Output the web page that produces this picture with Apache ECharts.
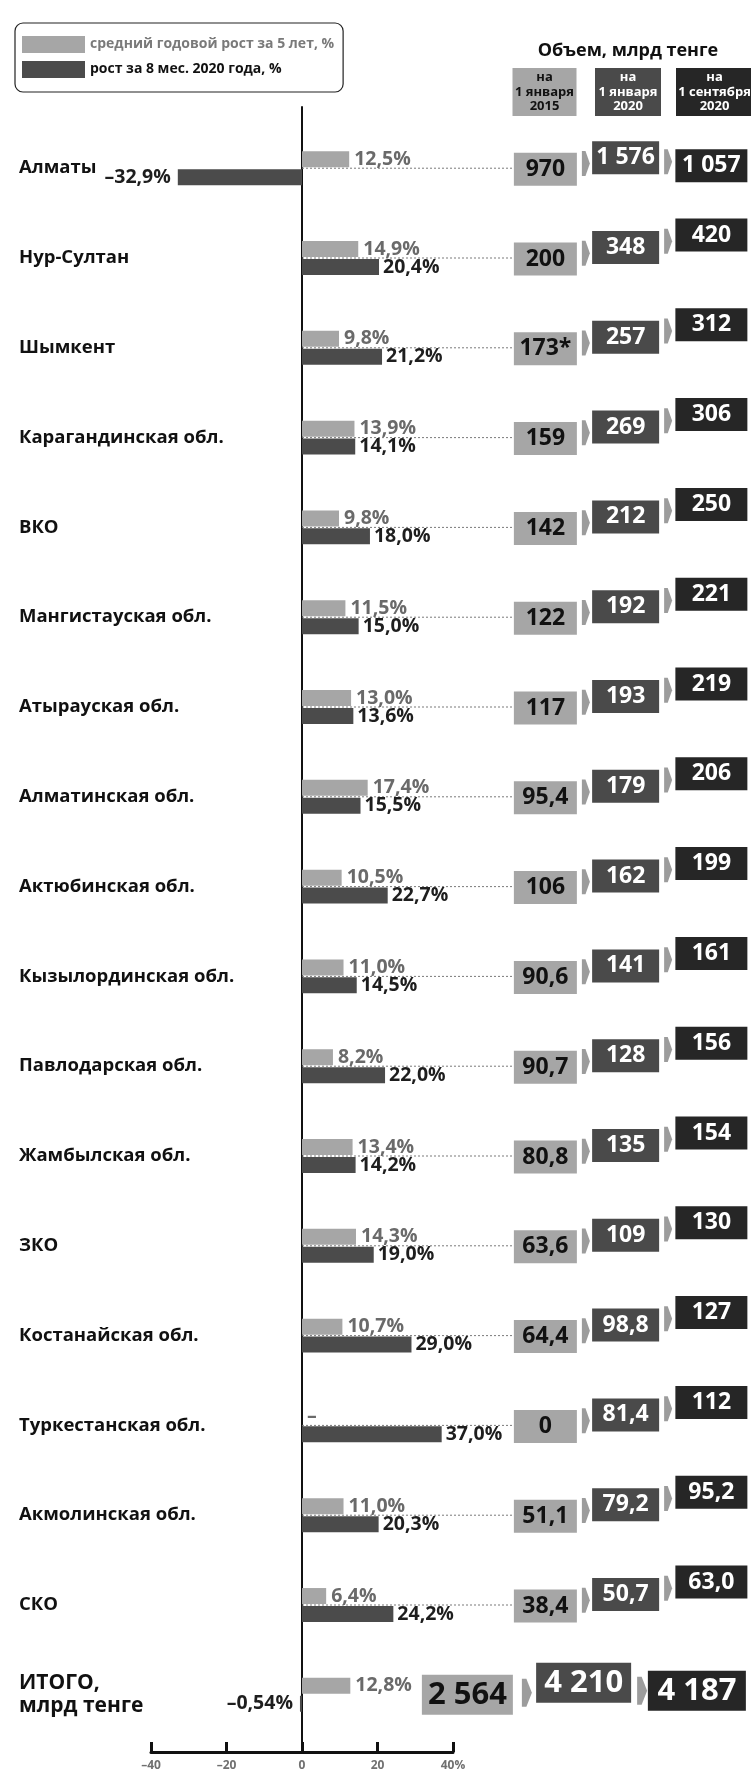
<!DOCTYPE html>
<html>
<head>
<meta charset="utf-8">
<script src="https://cdn.jsdelivr.net/npm/echarts@6/dist/echarts.min.js"></script>
<style>
html,body{margin:0;padding:0;background:#ffffff;}
#chart{width:751px;height:1781px;}
</style>
</head>
<body>
<div id="chart"></div>
<script>
// ---------------- DATA ----------------
const regions = ['Алматы','Нур-Султан','Шымкент','Карагандинская обл.','ВКО','Мангистауская обл.','Атырауская обл.','Алматинская обл.','Актюбинская обл.','Кызылординская обл.','Павлодарская обл.','Жамбылская обл.','ЗКО','Костанайская обл.','Туркестанская обл.','Акмолинская обл.','СКО','ИТОГО,\nмлрд тенге'];
const growth5y = [12.5, 14.9, 9.8, 13.9, 9.8, 11.5, 13.0, 17.4, 10.5, 11.0, 8.2, 13.4, 14.3, 10.7, null, 11.0, 6.4, 12.8];
const growth8m = [-32.9, 20.4, 21.2, 14.1, 18.0, 15.0, 13.6, 15.5, 22.7, 14.5, 22.0, 14.2, 19.0, 29.0, 37.0, 20.3, 24.2, -0.54];
const vol2015 = [970, 200, 173, 159, 142, 122, 117, 95.4, 106, 90.6, 90.7, 80.8, 63.6, 64.4, 0, 51.1, 38.4, 2564];
const vol2020 = [1576, 348, 257, 269, 212, 192, 193, 179, 162, 141, 128, 135, 109, 98.8, 81.4, 79.2, 50.7, 4210];
const volSep2020 = [1057, 420, 312, 306, 250, 221, 219, 206, 199, 161, 156, 154, 130, 127, 112, 95.2, 63.0, 4187];
const note2015 = ['', '', '*', '', '', '', '', '', '', '', '', '', '', '', '', '', '', ''];
const volColumns = ['на\n1 января\n2015', 'на\n1 января\n2020', 'на\n1 сентября\n2020'];
const volTitle = 'Объем, млрд тенге';
const seriesNames = ['средний годовой рост за 5 лет, %', 'рост за 8 мес. 2020 года, %'];
const axisMin = -40, axisMax = 40, axisStep = 20;

// ---------------- LAYOUT / STYLE ----------------
const FONT = '"Open Sans", "DejaVu Sans", sans-serif';
const C_GREY = '#a6a6a6', C_DARK = '#4a4a4a', C_BLACK = '#262626', C_CHEV = '#9c9c9c';
const ROW_BAND = 89.8;
const ROW_TOP = 258 - 1.5 * ROW_BAND, ROW_H = 18 * ROW_BAND;
const AX_LEFT = 151, AX_W = 302;
const BOX_LEFT = 504.25, BOX_BAND = 84.5;
const BOX_W = [63, 67, 72], BOX_H = 33;
const TOT_W = [91, 95, 98], TOT_H = 40, TOT_SHIFT = [-78, -44, -13];
const BOX_FILL = [C_GREY, C_DARK, C_BLACK];
const BOX_TEXT = ['#111111', '#ffffff', '#ffffff'];
const DOT_END = BOX_LEFT + BOX_BAND / 2 - BOX_W[0] / 2;

function fmtPct(v) {
  const a = Math.abs(v);
  const oneDec = Math.abs(a * 100 - Math.round(a * 10) * 10) < 1e-6;
  const s = (oneDec ? a.toFixed(1) : a.toFixed(2)).replace('.', ',');
  return (v < 0 ? '–' : '') + s + '%';
}
function fmtVol(v) {
  if (v === 0) return '0';
  if (v < 100) return v.toFixed(1).replace('.', ',');
  return String(Math.round(v)).replace(/\B(?=(\d{3})+(?!\d))/g, ' ');
}

const lastIdx = regions.length - 1;

const chart = echarts.init(document.getElementById('chart'), null, {renderer: 'canvas'});

const headerGraphics = [];
const HDR_W = [64, 66, 77];
volColumns.forEach((t, c) => {
  const cx = BOX_LEFT + (c + 0.5) * BOX_BAND + (c === 2 ? -1 : (c === 0 ? -2 : -3));
  headerGraphics.push({
    type: 'rect', left: cx - HDR_W[c] / 2, top: 68,
    shape: {width: HDR_W[c], height: 48},
    style: {fill: BOX_FILL[c]}
  });
  headerGraphics.push({
    type: 'text', x: cx, y: 92,
    style: {text: t, fill: BOX_TEXT[c], font: 'bold 13px ' + FONT, textAlign: 'center', textVerticalAlign: 'middle', lineHeight: 14.5}
  });
});
headerGraphics.push({
  type: 'text', x: 628, y: 51,
  style: {text: volTitle, fill: '#111', font: 'bold 18px ' + FONT, textAlign: 'center', textVerticalAlign: 'middle'}
});

const option = {
  animation: false,
  backgroundColor: '#ffffff',
  textStyle: {fontFamily: FONT},
  legend: {
    left: 15, top: 23, orient: 'vertical', itemWidth: 63, itemHeight: 17, itemGap: 8,
    padding: [13, 9, 14, 7], borderColor: '#222', borderWidth: 1.2, borderRadius: 8,
    icon: 'rect', selectedMode: false,
    data: [
      {name: seriesNames[0], textStyle: {color: '#7a7a7a'}},
      {name: seriesNames[1], textStyle: {color: '#111111'}}
    ],
    textStyle: {fontFamily: FONT, fontSize: 14, fontWeight: 'bold'}
  },
  graphic: headerGraphics,
  grid: [
    {left: AX_LEFT, width: AX_W, top: ROW_TOP, height: ROW_H},
    {left: AX_LEFT, width: AX_W, top: 107, bottom: 29},
    {left: BOX_LEFT, width: BOX_BAND * 3, top: ROW_TOP, height: ROW_H}
  ],
  xAxis: [
    {type: 'value', gridIndex: 0, min: axisMin, max: axisMax, show: false},
    {type: 'value', gridIndex: 1, min: axisMin, max: axisMax, interval: axisStep,
      axisLine: {show: true, onZero: false, lineStyle: {color: '#111', width: 3}},
      axisTick: {show: true, inside: true, length: 10, lineStyle: {color: '#111', width: 3}},
      splitLine: {show: false},
      axisLabel: {color: '#707070', fontSize: 12, fontWeight: 'bold', fontFamily: FONT, margin: 8,
        formatter: v => (v < 0 ? '–' + Math.abs(v) : (v === axisMax ? v + '%' : String(v)))}
    },
    {type: 'category', gridIndex: 2, data: volColumns, show: false}
  ],
  yAxis: [
    {type: 'category', gridIndex: 0, data: regions, inverse: true,
      axisLine: {show: false, onZero: false}, axisTick: {show: false},
      axisLabel: {align: 'left', margin: AX_LEFT - 19, color: '#111', fontSize: 18.5, fontWeight: 'bold', fontFamily: FONT,
        formatter: (v, i) => i === lastIdx ? v.split('\n').map(s => '{t|' + s + '}').join('\n') : v,
        rich: {t: {fontSize: 21, fontWeight: 'bold', lineHeight: 23, color: '#111', fontFamily: FONT}}
      }
    },
    {type: 'value', gridIndex: 1, min: 0, max: 1,
      axisLine: {show: true, onZero: true, lineStyle: {color: '#111', width: 2}},
      axisTick: {show: false}, axisLabel: {show: false}, splitLine: {show: false}
    },
    {type: 'category', gridIndex: 2, data: regions, inverse: true, show: false}
  ],
  series: [
    {
      type: 'custom', name: 'dots', xAxisIndex: 0, yAxisIndex: 0, silent: true, z: 1,
      data: regions.slice(0, lastIdx).map((_, i) => [0, i]),
      encode: {x: 0, y: 1},
      renderItem: (params, api) => {
        const p = api.coord([0, api.value(1)]);
        return {type: 'line', shape: {x1: p[0], y1: p[1], x2: DOT_END, y2: p[1]},
          style: {stroke: '#7a7a7a', lineWidth: 1, lineDash: [2, 2]}};
      }
    },
    {
      type: 'bar', name: seriesNames[0], xAxisIndex: 0, yAxisIndex: 0, z: 3,
      barWidth: 16, barGap: '12%', itemStyle: {color: C_GREY},
      data: growth5y.map(v => v === null ? {value: 0, label: {formatter: '–'}} : v),
      label: {show: true, position: 'right', distance: 5, color: '#6a6a6a', fontSize: 19.5, fontWeight: 'bold', fontFamily: FONT,
        formatter: p => fmtPct(p.value)}
    },
    {
      type: 'bar', name: seriesNames[1], xAxisIndex: 0, yAxisIndex: 0, z: 3,
      barWidth: 16, itemStyle: {color: '#4b4b4b'},
      data: growth8m.map(v => ({value: v, label: {position: v < 0 ? 'left' : 'right', distance: v < 0 ? 7 : 4}})),
      label: {show: true, color: '#1e1e1e', fontSize: 19.5, fontWeight: 'bold', fontFamily: FONT,
        formatter: p => fmtPct(p.value)}
    },
    {
      type: 'custom', name: 'volumes', xAxisIndex: 2, yAxisIndex: 2, silent: true, z: 5,
      data: regions.map((_, i) => [0, i, vol2015[i], vol2020[i], volSep2020[i]]),
      encode: {x: 0, y: 1},
      renderItem: (params, api) => {
        const row = api.value(1);
        const isTotal = row === lastIdx;
        const vals = [api.value(2), api.value(3), api.value(4)];
        const yc = api.coord([0, row])[1];
        const W = isTotal ? TOT_W : BOX_W;
        const H = isTotal ? TOT_H : BOX_H;
        const shift = isTotal ? TOT_SHIFT : [0, 0, 0];
        const darkDy = isTotal ? -12 : -10.5;
        const blackDy = vals[2] >= vals[1] ? darkDy - 12.5 : darkDy + 8;
        const dys = [isTotal ? 0 : 1, darkDy, blackDy];
        const fs = isTotal ? 31 : 23;
        const children = [];
        const boxes = [];
        for (let c = 0; c < 3; c++) {
          const cx = api.coord([c, row])[0] + shift[c] + (c === 2 && !isTotal ? 1.5 : 0) + (c === 1 && !isTotal ? -2 : 0);
          const cy = yc + dys[c];
          const x = cx - W[c] / 2, y = cy - H / 2;
          boxes.push({x: x, y: y, w: W[c], cy: cy});
          const txt = fmtVol(vals[c]) + (c === 0 ? note2015[row] : '');
          children.push({
            type: 'rect', shape: {x: x, y: y, width: W[c], height: H},
            style: {fill: BOX_FILL[c]},
            textContent: {style: {text: txt, fill: BOX_TEXT[c], font: 'bold ' + fs + 'px ' + FONT}},
            textConfig: {position: 'inside'}
          });
        }
        const chW = isTotal ? 10 : 8, chH = isTotal ? 28 : 25;
        const gaps = isTotal ? [9, 6] : [5, 5];
        for (let c = 0; c < 2; c++) {
          const x = boxes[c].x + boxes[c].w + gaps[c];
          const y = (boxes[c].cy + boxes[c + 1].cy) / 2 + (isTotal ? 4 : 0);
          children.push({
            type: 'polygon',
            shape: {points: [[x, y - chH / 2], [x + chW * 0.45, y - chH / 2], [x + chW, y], [x + chW * 0.45, y + chH / 2], [x, y + chH / 2]]},
            style: {fill: C_CHEV}
          });
        }
        return {type: 'group', children: children};
      }
    }
  ]
};
chart.setOption(option);
</script>
</body>
</html>
